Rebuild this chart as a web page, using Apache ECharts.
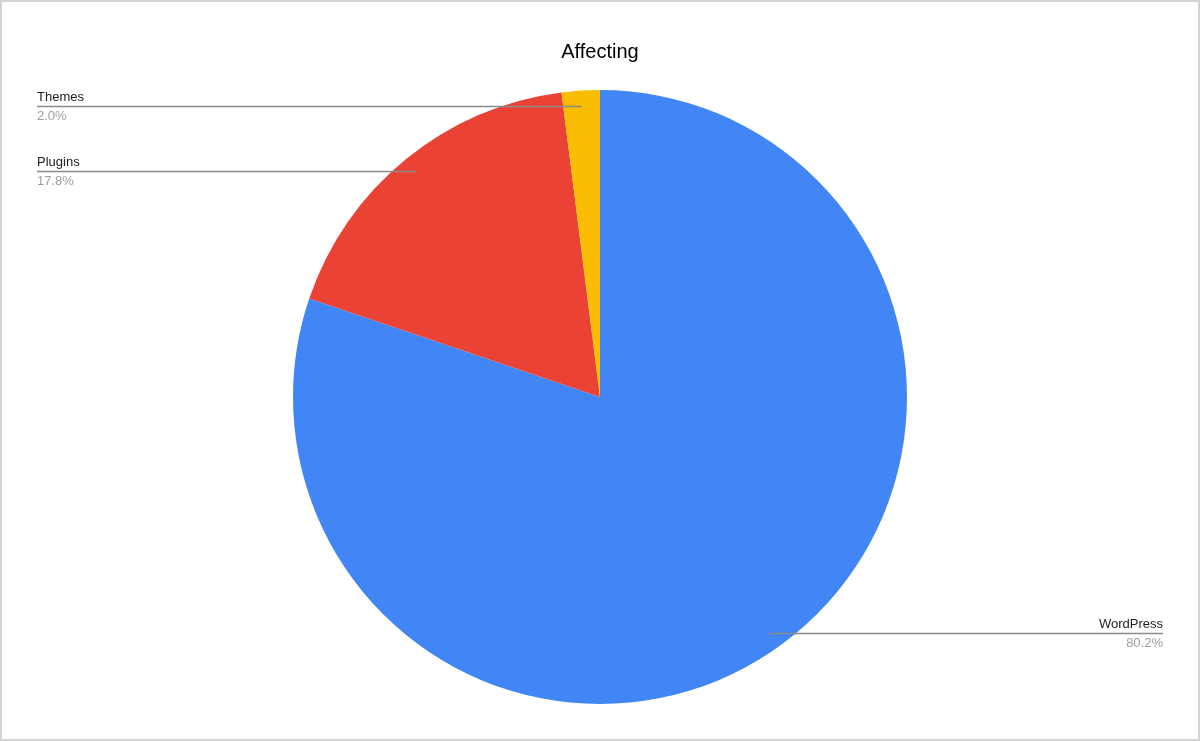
<!DOCTYPE html>
<html>
<head>
<meta charset="utf-8">
<script src="https://cdn.jsdelivr.net/npm/echarts@6/dist/echarts.min.js"></script>
<style>
html,body{margin:0;padding:0;background:#fff;}
#chart{width:1200px;height:741px;}
#frame{position:absolute;left:0;top:0;width:1200px;height:741px;box-sizing:border-box;border:2px solid #d4d4d4;pointer-events:none;}
</style>
</head>
<body>
<div id="chart"></div>
<div id="frame"></div>
<script>
var categories = ['WordPress', 'Plugins', 'Themes'];
var values = [80.2, 17.8, 2.0];
var colors = ['#4285F4', '#EA4335', '#FBBC04'];

var data = categories.map(function (c, i) {
  return { name: c, value: values[i], itemStyle: { color: colors[i] } };
});
var labelData = categories.map(function (c, i) {
  return { name: c, value: values[i] };
});

var chart = echarts.init(document.getElementById('chart'));
chart.setOption({
  animation: false,
  title: {
    text: 'Affecting',
    left: 'center',
    top: 37,
    textStyle: { fontFamily: 'Liberation Sans, Arial', fontSize: 20, fontWeight: 'normal', color: '#000' }
  },
  series: [
    {
      type: 'pie',
      z: 1,
      center: [600, 397],
      radius: [0, 307],
      startAngle: 90,
      clockwise: true,
      silent: true,
      label: { show: false },
      labelLine: { show: false },
      itemStyle: { borderWidth: 0 },
      data: data
    },
    {
      type: 'pie',
      z: 10,
      zlevel: 1,
      center: [600, 397],
      radius: [0, 291],
      startAngle: 90,
      clockwise: true,
      silent: true,
      avoidLabelOverlap: false,
      itemStyle: { color: 'rgba(0,0,0,0)', borderWidth: 0 },
      label: {
        show: true,
        position: 'outside',
        alignTo: 'edge',
        edgeDistance: 37,
        formatter: function (p) {
          return '{n|' + p.name + '}\n{p|' + p.value.toFixed(1) + '%}';
        },
        rich: {
          n: { fontFamily: 'Liberation Sans, Arial', fontSize: 13, color: '#222', lineHeight: 19 },
          p: { fontFamily: 'Liberation Sans, Arial', fontSize: 13, color: '#9e9e9e', lineHeight: 19 }
        }
      },
      labelLine: {
        show: true,
        length: 0,
        length2: 10,
        lineStyle: { color: '#8a8a8a', width: 1.5 }
      },
      labelLayout: function (p) {
        var pts = p.labelLinePoints;
        if (!pts) return {};
        var r = p.labelRect;
        var np = pts.map(function (a) { return a.slice(); });
        var last = np[np.length - 1];
        var isLeft = last[0] < np[0][0];
        last[0] = isLeft ? r.x : r.x + r.width;
        return { labelLinePoints: np };
      },
      data: labelData
    }
  ]
});
</script>
</body>
</html>
